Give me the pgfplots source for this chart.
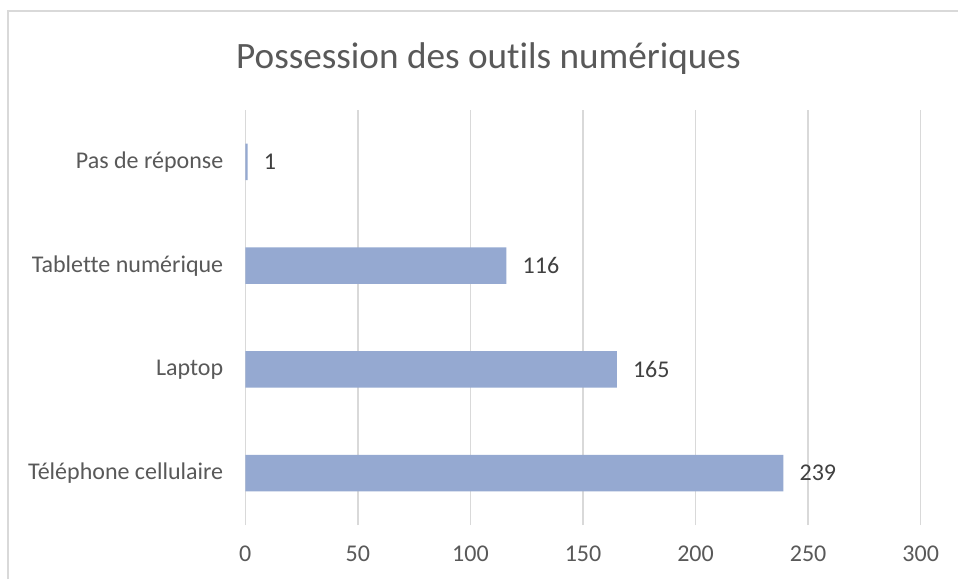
\documentclass[border=0pt]{standalone}
\usepackage{fontspec}
\setmainfont{Carlito}[Ligatures=NoCommon]
\usepackage{pgfplots}
\pgfplotsset{compat=1.18}
\definecolor{barc}{HTML}{95A9D1}
\definecolor{lab}{HTML}{595959}
\definecolor{dlab}{HTML}{404040}
\definecolor{gridc}{HTML}{D9D9D9}
\begin{document}
\begin{tikzpicture}
\useasboundingbox (0,0) rectangle (479pt,289.5pt);
\fill[white] (0,0) rectangle (479pt,289.5pt);
\draw[gridc, line width=0.75pt] (4pt,0) -- (4pt,283.9pt) -- (479pt,283.9pt);
\begin{axis}[
  at={(122.65pt,27pt)}, anchor=south west,
  scale only axis, width=337.7pt, height=207.5pt,
  xmin=0, xmax=300, ymin=-0.5, ymax=3.5,
  xtick={0,50,100,150,200,250,300},
  ytick={0,1,2,3},
  yticklabels={Téléphone cellulaire, Laptop, Tablette numérique, Pas de réponse},
  xmajorgrids=true, ymajorgrids=false,
  x grid style={draw=gridc, line width=0.75pt},
  axis line style={draw=none},
  major tick length=0pt,
  tick label style={font=\fontsize{12}{14}\selectfont, text=lab},
  xticklabel style={yshift=-7pt},
  yticklabel style={xshift=-7.5pt},
  /pgf/number format/assume math mode=true,
  title={Possession des outils numériques},
  title style={font=\fontsize{18.6}{22}\selectfont, text=lab, at={(axis description cs:0.360,1.096)}, anchor=center},
  xbar, bar width=18.35pt,
  nodes near coords,
  nodes near coords style={font=\fontsize{12}{14}\selectfont, text=dlab, anchor=west, xshift=4.6pt},
  point meta=x,
]
\addplot[fill=barc, draw=none] coordinates {(239,0) (165,1) (116,2) (1,3)};
\end{axis}
\end{tikzpicture}
\end{document}
